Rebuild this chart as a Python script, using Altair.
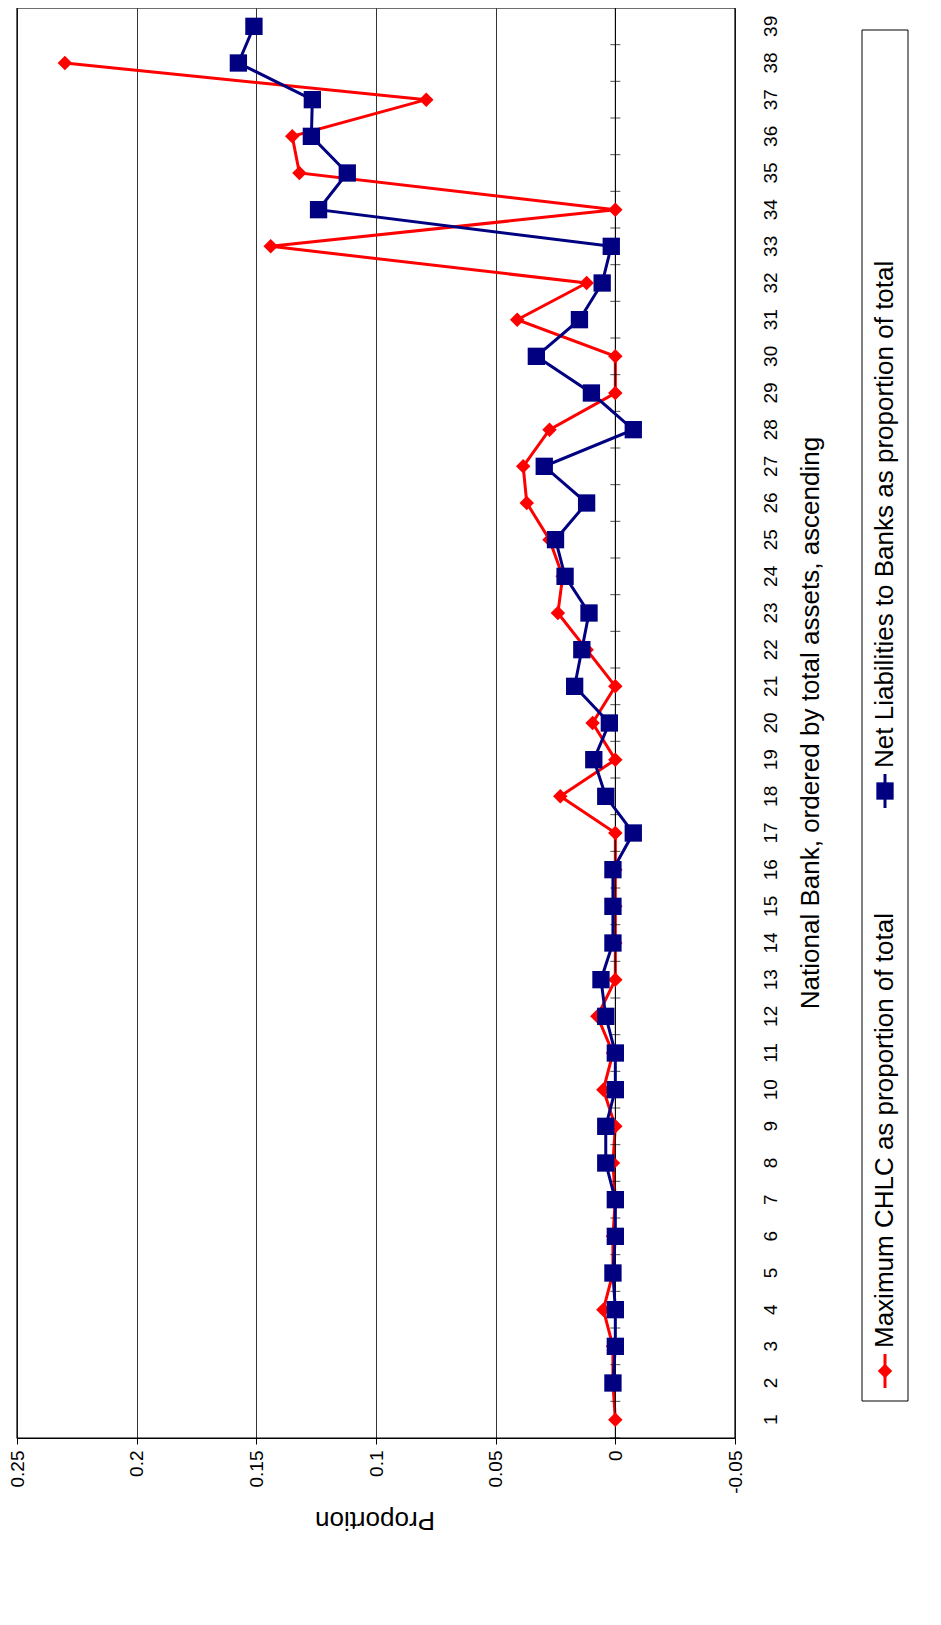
import pandas as pd
import altair as alt

banks = list(range(1, 40))
chlc = [0, 0.001, 0.001, 0.005, 0.001, 0.001, 0, 0.001, 0, 0.005,
        0.001, 0.0075, 0, 0, 0, 0, 0, 0.023, 0, 0.0095,
        0, 0.012, 0.024, 0.022, 0.0275, 0.037, 0.0385, 0.0275, 0, 0,
        0.041, 0.012, 0.144, 0, 0.132, 0.135, 0.079, 0.23, None]
net_liab = [None, 0.001, 0, 0, 0.001, 0, 0, 0.004, 0.004, 0,
            0, 0.004, 0.006, 0.001, 0.001, 0.001, -0.0075, 0.004, 0.009, 0.0025,
            0.017, 0.014, 0.011, 0.021, 0.025, 0.012, 0.0297, -0.0075, 0.010, 0.033,
            0.015, 0.0055, 0.0017, 0.124, 0.112, 0.127, 0.1266, 0.1575, 0.151]
x_ticks = [-0.05, 0, 0.05, 0.1, 0.15, 0.2, 0.25]
legend_labels = ["Maximum CHLC as proportion of total",
                 "Net Liabilities to Banks as proportion of total"]

red_df = pd.DataFrame({"bank": banks, "value": chlc}).dropna()
blue_df = pd.DataFrame({"bank": banks, "value": net_liab}).dropna()

FONT = "Liberation Sans"
W, H = 718, 1430
xscale = alt.Scale(domain=[-0.05, 0.25], reverse=True, nice=False)
yscale = alt.Scale(domain=[0.5, 39.5], nice=False, zero=False)

x_enc = alt.X("value:Q", scale=xscale, title=None,
              axis=alt.Axis(values=x_ticks, labelExpr="replace(format(datum.value, '~g'), '−', '-')",
                            labelAngle=270, labelAlign="right", labelBaseline="middle",
                            labelFontSize=19, labelFont=FONT, labelColor="black", labelPadding=6,
                            labelOverlap=False, labelBound=False, labelFlush=False,
                            grid=True, gridColor="black", gridWidth=0.8,
                            domainColor="black", tickColor="black", tickSize=6))
y_enc = alt.Y("bank:Q", scale=yscale, title=None, axis=None)

base_red = alt.Chart(red_df)
red_line = base_red.mark_line(color="#FF0000", strokeWidth=3).encode(x=x_enc, y=y_enc, order="bank:Q")
red_pts = base_red.mark_point(shape="diamond", filled=True, color="#FF0000", size=210, opacity=1).encode(x="value:Q", y=y_enc)

base_blue = alt.Chart(blue_df)
blue_line = base_blue.mark_line(color="#000080", strokeWidth=3).encode(x="value:Q", y=y_enc, order="bank:Q")
blue_pts = base_blue.mark_point(shape="square", filled=True, color="#000080", size=300, opacity=1).encode(x="value:Q", y=y_enc)

# zero line with small category ticks
tick_df = pd.DataFrame({"bank": [b + 0.5 for b in range(0, 39)], "value": [0] * 39})
zero_rule = alt.Chart(pd.DataFrame({"value": [0]})).mark_rule(color="black", strokeWidth=1).encode(x="value:Q")
cat_ticks = alt.Chart(tick_df).mark_tick(color="black", thickness=1, size=10, orient="horizontal").encode(
    x="value:Q", y=y_enc)

# bank labels on the right, rotated
bank_labels = alt.Chart(pd.DataFrame({"bank": banks})).mark_text(
    angle=270, align="center", baseline="middle", fontSize=19, font=FONT, color="black").encode(
    x=alt.value(W + 36), y=y_enc, text="bank:N")

# axis titles as rotated text
ytitle = alt.Chart(pd.DataFrame({
    "t": ["National Bank, ordered by total assets, ascending"]})).mark_text(
    angle=270, align="center", baseline="middle", fontSize=26, font=FONT, color="black").encode(
    x=alt.value(W + 76), y=alt.value(H / 2), text="t:N")
xtitle = alt.Chart(pd.DataFrame({"t": ["Proportion"]})).mark_text(
    angle=180, align="center", baseline="middle", fontSize=26, font=FONT, color="black").encode(
    x=alt.value(358), y=alt.value(H + 82), text="t:N")

# frame around the plot area
frame = alt.Chart(pd.DataFrame({"a": [0]})).mark_rect(fill=None, stroke="black", strokeWidth=1.2).encode(
    x=alt.value(0), x2=alt.value(W), y=alt.value(0), y2=alt.value(H))

# manual rotated legend
lx0, lx1 = 845, 891
cx = (lx0 + lx1) / 2
legend_box = alt.Chart(pd.DataFrame({"a": [0]})).mark_rect(fill="white", stroke="black", strokeWidth=1).encode(
    x=alt.value(lx0), x2=alt.value(lx1), y=alt.value(22), y2=alt.value(1393))
leg_line1 = alt.Chart(pd.DataFrame({"a": [0]})).mark_rule(strokeWidth=3, color="#FF0000").encode(
    x=alt.value(cx), y=alt.value(1380), y2=alt.value(1346))
leg_line2 = alt.Chart(pd.DataFrame({"a": [0]})).mark_rule(strokeWidth=3, color="#000080").encode(
    x=alt.value(cx), y=alt.value(800), y2=alt.value(766))
leg_sym1 = alt.Chart(pd.DataFrame({"a": [0]})).mark_point(shape="diamond", filled=True, color="#FF0000", size=210, opacity=1).encode(
    x=alt.value(cx), y=alt.value(1363))
leg_sym2 = alt.Chart(pd.DataFrame({"a": [0]})).mark_point(shape="square", filled=True, color="#000080", size=300, opacity=1).encode(
    x=alt.value(cx), y=alt.value(783))
leg_text1 = alt.Chart(pd.DataFrame({"label": [legend_labels[0]]})).mark_text(
    angle=270, align="left", baseline="middle", fontSize=26, font=FONT, color="black").encode(
    x=alt.value(cx), y=alt.value(1340), text="label:N")
leg_text2 = alt.Chart(pd.DataFrame({"label": [legend_labels[1]]})).mark_text(
    angle=270, align="left", baseline="middle", fontSize=26, font=FONT, color="black").encode(
    x=alt.value(cx), y=alt.value(760), text="label:N")

chart = alt.layer(red_line, zero_rule, cat_ticks, red_pts, blue_line, blue_pts, bank_labels, ytitle, xtitle,
                  frame, legend_box, leg_line1, leg_line2, leg_sym1, leg_sym2, leg_text1, leg_text2).properties(
    width=W, height=H, autosize=alt.AutoSizeParams(type="none"),
    padding={"left": 9, "top": 0, "right": 185, "bottom": 150}
).configure_view(stroke=None).configure(background="white")

chart.save("out.html", embed_options={"renderer": "svg", "actions": False})
